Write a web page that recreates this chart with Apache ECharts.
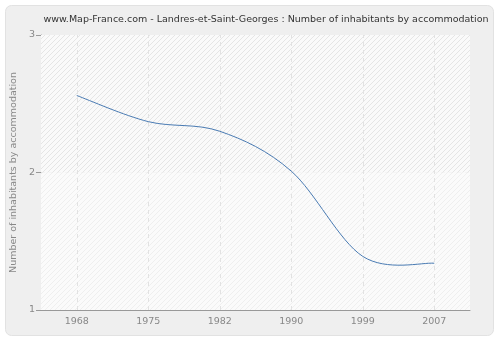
<!DOCTYPE html>
<html><head><meta charset="utf-8">
<script src="https://cdn.jsdelivr.net/npm/echarts@6/dist/echarts.min.js"></script>
<style>html,body{margin:0;padding:0;background:#fff}#c{width:500px;height:340px}</style>
</head><body><div id="c"></div>
<script>
var titleText = 'www.Map-France.com - Landres-et-Saint-Georges : Number of inhabitants by accommodation';
var yAxisName = 'Number of inhabitants by accommodation';
var years = ['1968', '1975', '1982', '1990', '1999', '2007'];
var values = [2.56, 2.37, 2.30, 2.01, 1.39, 1.34];
var yTicks = [1, 2, 3];

function hatch(bg, fg) {
  var c = document.createElement('canvas');
  c.width = 5; c.height = 5;
  var g = c.getContext('2d');
  g.fillStyle = bg; g.fillRect(0, 0, 5, 5);
  g.strokeStyle = fg; g.lineWidth = 1;
  g.beginPath();
  g.moveTo(-1, 6); g.lineTo(6, -1);
  g.moveTo(-6, 6); g.lineTo(1, -1);
  g.moveTo(4, 6); g.lineTo(11, -1);
  g.stroke();
  return c;
}

// Catmull-Rom style smooth path through the points given by the axes
function smoothPath(pts) {
  var d = 'M' + pts[0][0] + ' ' + pts[0][1];
  for (var i = 0; i < pts.length - 1; i++) {
    var p0 = pts[Math.max(i - 1, 0)], p1 = pts[i], p2 = pts[i + 1], p3 = pts[Math.min(i + 2, pts.length - 1)];
    var c1x = p1[0] + (p2[0] - p0[0]) / 6, c1y = p1[1] + (p2[1] - p0[1]) / 6;
    var c2x = p2[0] - (p3[0] - p1[0]) / 6, c2y = p2[1] - (p3[1] - p1[1]) / 6;
    d += ' C' + c1x + ' ' + c1y + ' ' + c2x + ' ' + c2y + ' ' + p2[0] + ' ' + p2[1];
  }
  return d;
}

var font = 'DejaVu Sans';
var chart = echarts.init(document.getElementById('c'), null, {renderer: 'canvas'});
chart.setOption({
  backgroundColor: '#ffffff',
  animation: false,
  graphic: [{
    type: 'rect', z: -10, silent: true,
    shape: {x: 5.5, y: 5.5, width: 488, height: 330, r: 6},
    style: {fill: '#efefef', stroke: '#e2e2e2', lineWidth: 1}
  }],
  title: {
    text: titleText, left: 261, top: 10, textAlign: 'center',
    textStyle: {fontFamily: font, fontSize: 9.5, fontWeight: 'normal', color: '#333'}
  },
  grid: {left: 41, right: 30, top: 35, bottom: 30, show: true, backgroundColor: '#fafafa', borderWidth: 0, outerBoundsMode: 'none', containLabel: false},
  xAxis: {
    type: 'category', data: years, boundaryGap: true,
    axisLine: {lineStyle: {color: '#999', width: 1}},
    axisTick: {alignWithLabel: true, length: 5, lineStyle: {color: '#999'}},
    axisLabel: {fontFamily: font, fontSize: 9.5, color: '#888', margin: 7},
    splitLine: {show: false}
  },
  yAxis: {
    type: 'value', min: yTicks[0], max: yTicks[yTicks.length - 1], interval: 1,
    name: yAxisName, nameLocation: 'middle', nameGap: 21,
    nameTextStyle: {fontFamily: font, fontSize: 9.5, color: '#888'},
    axisLine: {show: true, lineStyle: {color: '#999', width: 1}},
    axisTick: {show: true, length: 5, lineStyle: {color: '#999'}},
    axisLabel: {fontFamily: font, fontSize: 9.5, color: '#888', margin: 6},
    splitLine: {show: true, lineStyle: {color: '#e4e4e4', type: [4, 4]}}
  },
  series: [{
    type: 'custom',
    data: values.map(function (v, i) { return [i, v]; }),
    encode: {x: 0, y: 1},
    z: 5,
    renderItem: function (params, api) {
      if (params.dataIndex !== 0) return null;
      var pts = values.map(function (v, i) { return api.coord([i, v]); });
      return {
        type: 'path',
        shape: {pathData: smoothPath(pts)},
        style: {fill: 'none', stroke: '#4a7bb3', lineWidth: 1}
      };
    }
  }, {
    type: 'line', data: [], silent: true,
    markArea: {
      silent: true,
      data: [
        [{yAxis: 2, itemStyle: {color: {image: hatch('#fafafa', '#e5e5e5'), repeat: 'repeat'}}}, {yAxis: 3}],
        [{yAxis: 1, itemStyle: {color: {image: hatch('#fbfbfb', '#efefef'), repeat: 'repeat'}}}, {yAxis: 2}]
      ]
    },
    markLine: {
      silent: true, symbol: 'none', label: {show: false},
      lineStyle: {color: '#e2e2e2', type: [4, 4], width: 1},
      data: years.map(function (y) { return {xAxis: y}; })
    }
  }]
});
</script></body></html>
